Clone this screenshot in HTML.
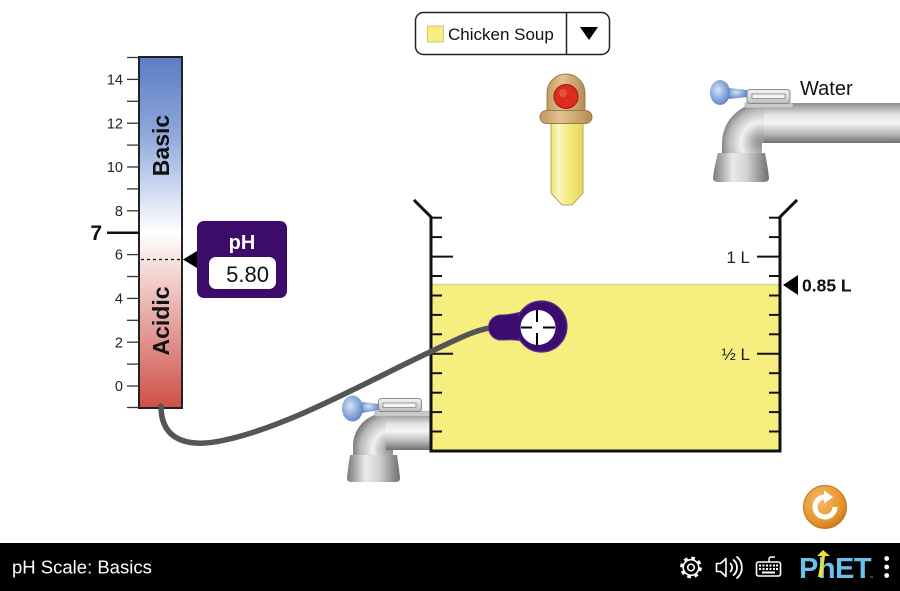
<!DOCTYPE html>
<html><head><meta charset="utf-8"><style>
html,body{margin:0;padding:0;background:#fff;}
svg{display:block;font-family:"Liberation Sans",Arial,sans-serif;}
</style></head><body>
<svg width="900" height="591" viewBox="0 0 900 591" xmlns="http://www.w3.org/2000/svg">
<defs>
<linearGradient id="phg" x1="0" y1="0" x2="0" y2="1">
<stop offset="0" stop-color="#5b7dc6"/><stop offset="0.22" stop-color="#8ea8db"/><stop offset="0.5" stop-color="#ffffff"/><stop offset="0.75" stop-color="#e6a6a3"/><stop offset="1" stop-color="#cf4f47"/>
</linearGradient>
<linearGradient id="pipeH" x1="0" y1="0" x2="0" y2="1">
<stop offset="0" stop-color="#8c8c8c"/><stop offset="0.3" stop-color="#e4e4e4"/><stop offset="0.5" stop-color="#f4f4f4"/><stop offset="0.78" stop-color="#b6b6b6"/><stop offset="1" stop-color="#6e6e6e"/>
</linearGradient>
<linearGradient id="pipeV" x1="0" y1="0" x2="1" y2="0">
<stop offset="0" stop-color="#7a7a7a"/><stop offset="0.35" stop-color="#eaeaea"/><stop offset="0.6" stop-color="#d2d2d2"/><stop offset="1" stop-color="#6f6f6f"/>
</linearGradient>
<radialGradient id="elbT" gradientUnits="userSpaceOnUse" cx="762" cy="143" r="42">
<stop offset="0" stop-color="#8a8a8a"/><stop offset="0.2" stop-color="#aaaaaa"/><stop offset="0.5" stop-color="#f0f0f0"/><stop offset="0.8" stop-color="#b8b8b8"/><stop offset="1" stop-color="#777"/>
</radialGradient>
<radialGradient id="elbB" gradientUnits="userSpaceOnUse" cx="393" cy="450" r="41">
<stop offset="0" stop-color="#8a8a8a"/><stop offset="0.2" stop-color="#aaaaaa"/><stop offset="0.5" stop-color="#f0f0f0"/><stop offset="0.8" stop-color="#b8b8b8"/><stop offset="1" stop-color="#777"/>
</radialGradient>
<radialGradient id="knob" cx="0.4" cy="0.4" r="0.65">
<stop offset="0" stop-color="#d6e3f6"/><stop offset="0.6" stop-color="#89a9dc"/><stop offset="1" stop-color="#5f80bf"/>
</radialGradient>
<linearGradient id="lever" x1="0" y1="0" x2="0" y2="1">
<stop offset="0" stop-color="#f4f4f4"/><stop offset="1" stop-color="#bdbdbd"/>
</linearGradient>
<linearGradient id="tan" x1="0" y1="0" x2="1" y2="0">
<stop offset="0" stop-color="#c29a62"/><stop offset="0.4" stop-color="#e3c291"/><stop offset="1" stop-color="#b58b54"/>
</linearGradient>
<linearGradient id="tube" x1="0" y1="0" x2="1" y2="0">
<stop offset="0" stop-color="#efe27a"/><stop offset="0.25" stop-color="#fbf6c0"/><stop offset="0.55" stop-color="#f5ea7c"/><stop offset="1" stop-color="#e5d660"/>
</linearGradient>
<radialGradient id="orange" cx="0.4" cy="0.35" r="0.7">
<stop offset="0" stop-color="#f6bb6a"/><stop offset="0.7" stop-color="#e7952f"/><stop offset="1" stop-color="#c9761f"/>
</radialGradient>
</defs>

<!-- pH scale -->
<rect x="139" y="57" width="43" height="351" fill="url(#phg)" stroke="#222" stroke-width="2"/>
<g stroke="#333" stroke-width="1.3">
<line x1="127" y1="57.5" x2="139" y2="57.5"/>
<line x1="127" y1="79.4" x2="139" y2="79.4"/>
<line x1="127" y1="101.3" x2="139" y2="101.3"/>
<line x1="127" y1="123.2" x2="139" y2="123.2"/>
<line x1="127" y1="145.1" x2="139" y2="145.1"/>
<line x1="127" y1="167" x2="139" y2="167"/>
<line x1="127" y1="188.9" x2="139" y2="188.9"/>
<line x1="127" y1="210.8" x2="139" y2="210.8"/>
<line x1="127" y1="254.6" x2="139" y2="254.6"/>
<line x1="127" y1="276.5" x2="139" y2="276.5"/>
<line x1="127" y1="298.4" x2="139" y2="298.4"/>
<line x1="127" y1="320.3" x2="139" y2="320.3"/>
<line x1="127" y1="342.2" x2="139" y2="342.2"/>
<line x1="127" y1="364.1" x2="139" y2="364.1"/>
<line x1="127" y1="386" x2="139" y2="386"/>
<line x1="127" y1="407.5" x2="139" y2="407.5"/>
</g>
<line x1="107" y1="232.7" x2="140" y2="232.7" stroke="#111" stroke-width="2.5"/>
<g font-size="14.5" fill="#222" text-anchor="end">
<text x="123" y="84.5">14</text>
<text x="123" y="128.3">12</text>
<text x="123" y="172.1">10</text>
<text x="123" y="215.9">8</text>
<text x="123" y="259.7">6</text>
<text x="123" y="303.5">4</text>
<text x="123" y="347.3">2</text>
<text x="123" y="391.1">0</text>
</g>
<text x="102" y="240" font-size="21" font-weight="bold" text-anchor="end" fill="#111">7</text>
<text transform="translate(169,145.5) rotate(-90)" font-size="23" font-weight="bold" text-anchor="middle" fill="#111">Basic</text>
<text transform="translate(169,321) rotate(-90)" font-size="23" font-weight="bold" text-anchor="middle" fill="#111">Acidic</text>
<line x1="141" y1="259.5" x2="182" y2="259.5" stroke="#111" stroke-width="1.3" stroke-dasharray="3,3"/>
<polygon points="183,259.5 197,251 197,268" fill="#000"/>
<rect x="197" y="221" width="90" height="77" rx="7" fill="#3d0c6b"/>
<text x="242" y="249" font-size="20" font-weight="bold" fill="#fff" text-anchor="middle">pH</text>
<rect x="209" y="257" width="67" height="32" rx="7" fill="#fff"/>
<text x="269" y="282" font-size="22" fill="#111" text-anchor="end">5.80</text>

<!-- Dropdown -->
<rect x="415.5" y="12.5" width="194" height="42" rx="8" fill="#fff" stroke="#222" stroke-width="1.5"/>
<line x1="566.5" y1="12.5" x2="566.5" y2="54.5" stroke="#222" stroke-width="1.5"/>
<rect x="427.5" y="26" width="16" height="16" fill="#f7ee80" stroke="#d2c870" stroke-width="1"/>
<text x="448" y="40" font-size="17" fill="#111">Chicken Soup</text>
<polygon points="580,27 598,27 589,40" fill="#000"/>

<!-- Dropper -->
<path d="M551,123 L583,123 L583,193 L572,205 L562,205 L551,193 Z" fill="url(#tube)" stroke="#b8a94f" stroke-width="1"/>
<path d="M547,112 L547,93 A19,19 0 0 1 585,93 L585,112 Z" fill="url(#tan)" stroke="#9c7a48" stroke-width="1"/>
<rect x="540" y="110.5" width="52" height="13" rx="6.5" fill="url(#tan)" stroke="#9c7a48" stroke-width="1"/>
<circle cx="566" cy="96.5" r="12" fill="#db2c1e" stroke="#9a1a10" stroke-width="1"/>
<circle cx="563" cy="93" r="4" fill="#ee6a5e" opacity="0.6"/>

<!-- Top right faucet -->
<rect x="761" y="103" width="139" height="40" fill="url(#pipeH)"/>
<path d="M764,103 L764,143 L762,143 L762,154 L722,154 L722,143 A40,40 0 0 1 762,103 Z" fill="url(#elbT)"/>
<path d="M718,153 L765,153 Q768,168 769,178 Q769,182 764,182 L718,182 Q713,182 713,178 Q714,168 718,153 Z" fill="url(#pipeV)"/>
<rect x="745" y="103" width="48" height="5" fill="#c9c9c9" stroke="#9a9a9a" stroke-width="0.6"/>
<path d="M729,88 L747,90 L747,97 L729,99 Z" fill="url(#knob)"/>
<rect x="747" y="89.5" width="43" height="14" rx="3" fill="url(#lever)" stroke="#8a8a8a" stroke-width="1"/>
<rect x="752" y="94" width="33" height="4.5" fill="#f4f4f4" stroke="#888" stroke-width="0.8"/>
<ellipse cx="720" cy="92.5" rx="10" ry="12.5" fill="url(#knob)"/>
<text x="800" y="95" font-size="20" fill="#111">Water</text>

<!-- Bottom faucet -->
<rect x="384" y="413" width="48" height="37" fill="url(#pipeH)"/>
<path d="M386,413 L386,450 L393,450 L393,456 L353,456 L353,446 A33,33 0 0 1 386,413 Z" fill="url(#elbB)"/>
<path d="M350,455 L397,455 Q399,468 400,478 Q400,482 396,482 L351,482 Q347,482 347,478 Q348,468 350,455 Z" fill="url(#pipeV)"/>
<rect x="375" y="411.5" width="55" height="5" fill="#c9c9c9" stroke="#9a9a9a" stroke-width="0.6"/>
<path d="M362,402 L379,404 L379,410 L362,413 Z" fill="url(#knob)"/>
<rect x="378.5" y="398.5" width="43" height="13" rx="3" fill="url(#lever)" stroke="#8a8a8a" stroke-width="1"/>
<rect x="383" y="403" width="33" height="4.5" fill="#f4f4f4" stroke="#888" stroke-width="0.8"/>
<ellipse cx="352.5" cy="408.5" rx="10.5" ry="13" fill="url(#knob)"/>

<!-- Beaker -->
<rect x="431" y="284" width="349" height="167" fill="#f7ee80"/>
<line x1="431" y1="284.5" x2="780" y2="284.5" stroke="#d8d29c" stroke-width="1.5"/>
<g stroke="#111" stroke-width="2" fill="none">
<line x1="431" y1="217.7" x2="442" y2="217.7"/><line x1="769" y1="217.7" x2="780" y2="217.7"/>
<line x1="431" y1="237.1" x2="442" y2="237.1"/><line x1="769" y1="237.1" x2="780" y2="237.1"/>
<line x1="431" y1="256.6" x2="453" y2="256.6"/><line x1="757" y1="256.6" x2="780" y2="256.6"/>
<line x1="431" y1="276" x2="442" y2="276"/><line x1="769" y1="276" x2="780" y2="276"/>
<line x1="431" y1="295.5" x2="442" y2="295.5"/><line x1="769" y1="295.5" x2="780" y2="295.5"/>
<line x1="431" y1="314.9" x2="442" y2="314.9"/><line x1="769" y1="314.9" x2="780" y2="314.9"/>
<line x1="431" y1="334.3" x2="442" y2="334.3"/><line x1="769" y1="334.3" x2="780" y2="334.3"/>
<line x1="431" y1="353.8" x2="453" y2="353.8"/><line x1="757" y1="353.8" x2="780" y2="353.8"/>
<line x1="431" y1="373.2" x2="442" y2="373.2"/><line x1="769" y1="373.2" x2="780" y2="373.2"/>
<line x1="431" y1="392.7" x2="442" y2="392.7"/><line x1="769" y1="392.7" x2="780" y2="392.7"/>
<line x1="431" y1="412.1" x2="442" y2="412.1"/><line x1="769" y1="412.1" x2="780" y2="412.1"/>
<line x1="431" y1="431.5" x2="442" y2="431.5"/><line x1="769" y1="431.5" x2="780" y2="431.5"/>
</g>
<g stroke="#111" stroke-width="3" fill="none" stroke-linecap="square">
<polyline points="415,201 431,217 431,451 780,451 780,217 796,201" stroke-linejoin="miter"/>
</g>
<text x="750" y="263" font-size="17" fill="#222" text-anchor="end">1 L</text>
<text x="750" y="360" font-size="17" fill="#222" text-anchor="end">½ L</text>
<polygon points="783,285 798,275 798,295" fill="#000"/>
<text x="802" y="291.5" font-size="17.5" font-weight="bold" fill="#111">0.85 L</text>

<!-- Cable -->
<path d="M161,406 C161,445 195,447 225,440 C290,426 370,380 430,352 C460,338 478,328 498,327" fill="none" stroke="#555" stroke-width="5.5" stroke-linecap="round"/>

<!-- Probe -->
<path d="M501,315 C509,315 514,314 521,312 L521,341 C514,339 509,340 501,340 A12.5,12.5 0 0 1 501,315 Z" fill="#3c0d6f" stroke="#5c3090" stroke-width="1"/>
<circle cx="541.5" cy="326.5" r="25.5" fill="#3c0d6f" stroke="#5c3090" stroke-width="1.2"/>
<rect x="512" y="316" width="12" height="22" fill="#3c0d6f"/>
<circle cx="538" cy="327.5" r="17.5" fill="#fff"/>
<g stroke="#000" stroke-width="2">
<line x1="521" y1="327.5" x2="532" y2="327.5"/><line x1="543" y1="327.5" x2="555" y2="327.5"/>
<line x1="537" y1="310" x2="537" y2="322"/><line x1="537" y1="333" x2="537" y2="345"/>
</g>

<!-- Reset button -->
<circle cx="825" cy="507" r="21.5" fill="url(#orange)" stroke="#c0711d" stroke-width="1"/>
<path d="M825,497 A10,10 0 1 0 835,507" fill="none" stroke="#fff" stroke-width="5"/>
<polygon points="824,490.5 833,497 824,503.5" fill="#fff"/>

<!-- Bottom bar -->
<rect x="0" y="543" width="900" height="48" fill="#000"/>
<text x="12" y="573.5" font-size="18.5" fill="#fff">pH Scale: Basics</text>
<!-- gear -->
<circle cx="691" cy="567.5" r="9.3" fill="none" stroke="#fff" stroke-width="3.2" stroke-dasharray="3.6,3.7"/>
<circle cx="691" cy="567.5" r="7.8" fill="#000" stroke="#fff" stroke-width="1.6"/>
<circle cx="691" cy="567.5" r="3.3" fill="none" stroke="#fff" stroke-width="1.6"/>
<!-- speaker -->
<path d="M716.5,563.5 L720.5,563.5 L726,558.5 L726,576.5 L720.5,571.5 L716.5,571.5 Z" fill="none" stroke="#fff" stroke-width="1.6" stroke-linejoin="round"/>
<path d="M730,563 A6,6 0 0 1 730,572" fill="none" stroke="#fff" stroke-width="1.8"/>
<path d="M733,559.5 A10,10 0 0 1 733,575.5" fill="none" stroke="#fff" stroke-width="1.8"/>
<path d="M736.5,556.5 A14,14 0 0 1 736.5,578.5" fill="none" stroke="#fff" stroke-width="1.8"/>
<!-- keyboard -->
<path d="M769,562 L769,559 Q769,557 772,557 L775,557" fill="none" stroke="#fff" stroke-width="1.4"/>
<rect x="756.5" y="562" width="24" height="14" rx="2" fill="none" stroke="#fff" stroke-width="1.6"/>
<g fill="#fff">
<rect x="759" y="564.5" width="2" height="2"/><rect x="762.5" y="564.5" width="2" height="2"/><rect x="766" y="564.5" width="2" height="2"/><rect x="769.5" y="564.5" width="2" height="2"/><rect x="773" y="564.5" width="2" height="2"/><rect x="776" y="564.5" width="2" height="2"/>
<rect x="759" y="568" width="2" height="2"/><rect x="762.5" y="568" width="2" height="2"/><rect x="766" y="568" width="2" height="2"/><rect x="769.5" y="568" width="2" height="2"/><rect x="773" y="568" width="2" height="2"/><rect x="776" y="568" width="2" height="2"/>
<rect x="762" y="571.5" width="13" height="2"/>
</g>
<!-- PhET logo -->
<text x="799" y="578" font-size="29" font-weight="bold" fill="#6cc1ec" letter-spacing="-0.5">PhET</text>
<polygon points="823,550 830,556 825,556 822,577 818,577 822,556 817,556" fill="#f0e22a"/>
<text x="869" y="579" font-size="4" fill="#6cc1ec">™</text>
<circle cx="886.7" cy="558.5" r="2.4" fill="#fff"/>
<circle cx="886.7" cy="567" r="2.4" fill="#fff"/>
<circle cx="886.7" cy="575.5" r="2.4" fill="#fff"/>
</svg>
</body></html>
